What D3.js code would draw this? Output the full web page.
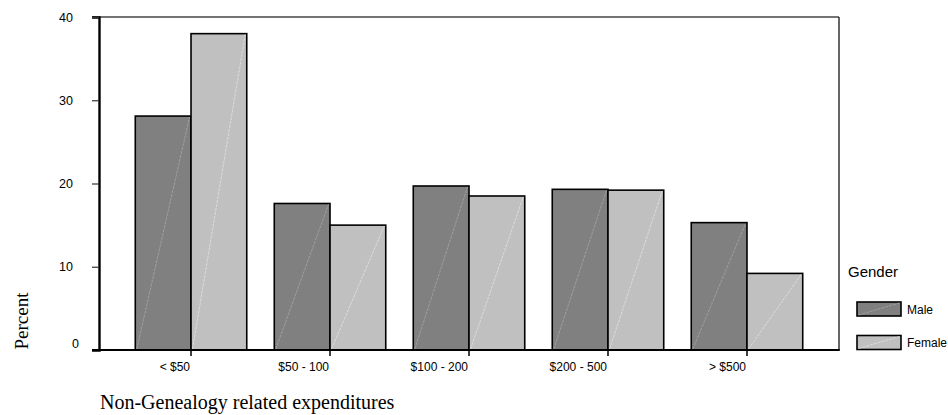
<!DOCTYPE html>
<html>
<head>
<meta charset="utf-8">
<script src="https://cdn.jsdelivr.net/npm/d3@7"></script>
<style>
  body { margin: 0; background: #fff; }
  svg { display: block; }
</style>
</head>
<body>
<svg id="chart" width="948" height="415"></svg>
<script>
const categories = ["< $50", "$50 - 100", "$100 - 200", "$200 - 500", "> $500"];
const genders = ["Male", "Female"];
const male = [28.1, 17.6, 19.7, 19.3, 15.3];
const female = [38.0, 15.0, 18.5, 19.2, 9.2];
const yTicks = [0, 10, 20, 30, 40];

const fills = { Male: "#808080", Female: "#c0c0c0" };
const streaks = { Male: "#a6a6a6", Female: "#e2e2e2" };

const svg = d3.select("#chart");
const plotLeft = 99, plotRight = 839, plotTop = 17, plotBottom = 350;

const x0 = d3.scaleBand()
  .domain(categories)
  .range([plotLeft, plotRight])
  .paddingInner(0.198)
  .paddingOuter(0.261);

const x1 = d3.scaleBand()
  .domain(genders)
  .range([0, x0.bandwidth()]);

const y = d3.scaleLinear()
  .domain([0, 40])
  .range([plotBottom, plotTop]);

const rows = categories.map((c, i) => ({ cat: c, Male: male[i], Female: female[i] }));

// frame: top + right lines
svg.append("line")
  .attr("x1", plotLeft - 7).attr("x2", plotRight)
  .attr("y1", plotTop).attr("y2", plotTop)
  .attr("stroke", "#444").attr("stroke-width", 1.3);
svg.append("line")
  .attr("x1", plotRight).attr("x2", plotRight)
  .attr("y1", plotTop).attr("y2", plotBottom)
  .attr("stroke", "#333").attr("stroke-width", 1.5);

// bars
const groups = svg.append("g").selectAll("g")
  .data(rows)
  .join("g")
  .attr("transform", d => `translate(${x0(d.cat)},0)`);

groups.selectAll("rect")
  .data(d => genders.map(g => ({ g, v: d[g] })))
  .join("rect")
  .attr("x", d => x1(d.g))
  .attr("y", d => y(d.v))
  .attr("width", x1.bandwidth())
  .attr("height", d => y(0) - y(d.v))
  .attr("fill", d => fills[d.g])
  .attr("stroke", "#000")
  .attr("stroke-width", 1.6);

// faint diagonal streak inside each bar
groups.selectAll("line.streak")
  .data(d => genders.map(g => ({ g, v: d[g] })))
  .join("line")
  .attr("class", "streak")
  .attr("x1", d => x1(d.g) + 1.5)
  .attr("y1", y(0) - 1)
  .attr("x2", d => x1(d.g) + x1.bandwidth() - 1.5)
  .attr("y2", d => y(d.v) + 1)
  .attr("stroke", d => streaks[d.g])
  .attr("stroke-width", 0.8)
  .attr("stroke-dasharray", "3,1");

// y axis
const yAxis = svg.append("g")
  .attr("transform", `translate(${plotLeft},0)`)
  .call(d3.axisLeft(y).tickValues(yTicks).tickSize(7).tickPadding(19));
yAxis.select(".domain").attr("stroke", "#000").attr("stroke-width", 2.4);
yAxis.selectAll(".tick line").attr("stroke", "#333").attr("stroke-width", 1.2);
yAxis.selectAll(".tick text")
  .attr("font-family", "Liberation Sans, Arial, sans-serif")
  .attr("font-size", "12.5px")
  .attr("fill", "#000");
yAxis.selectAll(".tick").filter(d => d === 0).select("text")
  .attr("x", -20).attr("dy", "-0.22em");

// x axis
const xAxis = svg.append("g")
  .attr("transform", `translate(0,${plotBottom})`)
  .call(d3.axisBottom(x0).tickSize(6).tickPadding(6).tickSizeOuter(0));
xAxis.select(".domain").remove();
svg.append("line")
  .attr("x1", plotLeft - 7).attr("x2", plotRight + 0.75)
  .attr("y1", plotBottom).attr("y2", plotBottom)
  .attr("stroke", "#000").attr("stroke-width", 2.2);
xAxis.selectAll(".tick line").attr("stroke", "#000").attr("stroke-width", 1.5);
xAxis.selectAll(".tick text")
  .attr("font-family", "Liberation Sans, Arial, sans-serif")
  .attr("font-size", "12px")
  .attr("fill", "#000")
  .attr("text-anchor", "end")
  .attr("x", -1);

// axis titles
svg.append("text")
  .attr("transform", "translate(28,321) rotate(-90)")
  .attr("text-anchor", "middle")
  .attr("font-family", "Liberation Serif, Times New Roman, serif")
  .attr("font-size", "19px")
  .text("Percent");

svg.append("text")
  .attr("x", 100).attr("y", 409)
  .attr("font-family", "Liberation Serif, Times New Roman, serif")
  .attr("font-size", "20px")
  .text("Non-Genealogy related expenditures");

// legend
const legend = svg.append("g").attr("transform", "translate(848,0)");
legend.append("text")
  .attr("x", 0).attr("y", 277)
  .attr("font-family", "Liberation Sans, Arial, sans-serif")
  .attr("font-size", "15px")
  .text("Gender");

const items = legend.selectAll("g.item")
  .data(genders)
  .join("g")
  .attr("class", "item")
  .attr("transform", (d, i) => `translate(9,${302 + i * 33.5})`);

items.append("rect")
  .attr("width", 44).attr("height", 14)
  .attr("fill", d => fills[d])
  .attr("stroke", "#000").attr("stroke-width", 1.6);
items.append("line")
  .attr("x1", 1.5).attr("y1", 13)
  .attr("x2", 42.5).attr("y2", 1)
  .attr("stroke", d => streaks[d])
  .attr("stroke-width", 0.8)
  .attr("stroke-dasharray", "3,1");
items.append("text")
  .attr("x", 50).attr("y", 11.5)
  .attr("font-family", "Liberation Sans, Arial, sans-serif")
  .attr("font-size", "12px")
  .text(d => d);
</script>
</body>
</html>
